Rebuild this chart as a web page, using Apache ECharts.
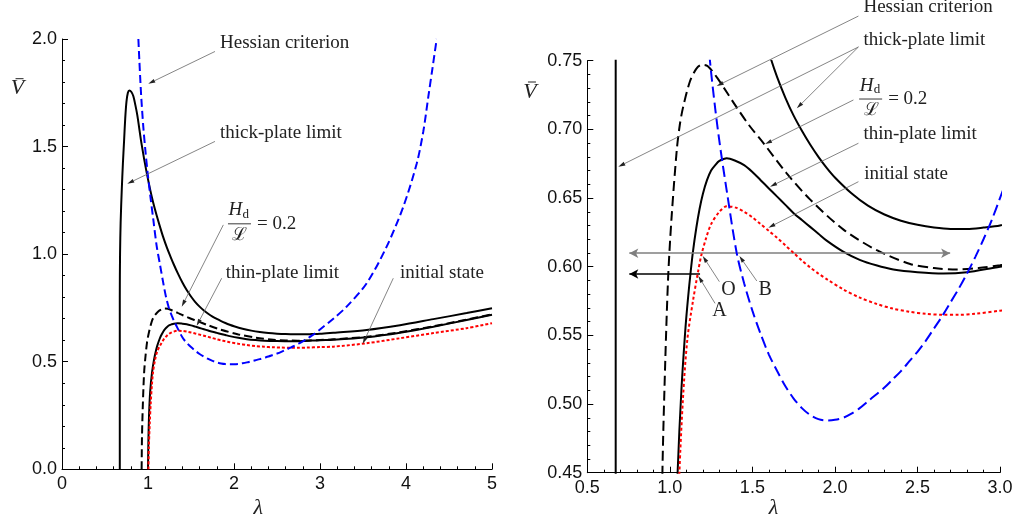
<!DOCTYPE html>
<html><head><meta charset="utf-8">
<script src="https://cdn.jsdelivr.net/npm/echarts@6/dist/echarts.min.js"></script>
<style>html,body{margin:0;padding:0;background:#fff}#c{width:1017px;height:522px}</style>
</head><body><div id="c"></div>
<script>
// ---------- data (λ, V̄) ----------
const thickLam = [0.672,0.672,0.675,0.682,0.695,0.708,0.721,0.735,0.750,0.766,0.783,0.805,0.829,0.852,0.876,0.926,0.984,1.06,1.16,1.22,1.26,1.30,1.35,1.40,1.45,1.50,1.55,1.60,1.65,1.70,1.75,1.80,1.85,1.90,1.95,2.0,2.1,2.2,2.3,2.4,2.5,2.6,2.7,2.8,2.9,3.0,3.155,3.543,3.93,4.318,4.705,5.0];
const thickV   = [0,0.8,1.0,1.15,1.3,1.42,1.52,1.63,1.71,1.75,1.761,1.755,1.735,1.695,1.645,1.51,1.38,1.24,1.10,1.03,0.99,0.952,0.908,0.868,0.833,0.803,0.777,0.756,0.738,0.723,0.710,0.699,0.689,0.680,0.672,0.665,0.6535,0.6445,0.638,0.6335,0.6305,0.6285,0.6275,0.6275,0.6285,0.630,0.635,0.648,0.670,0.698,0.726,0.749];

const hdLam = [0.926,0.93,0.94,0.955,0.972,0.99,1.01,1.042,1.06,1.08,1.122,1.16,1.193,1.23,1.284,1.345,1.405,1.48,1.567,1.708,1.849,2.052,2.254,2.456,2.60,2.738,2.87,3.0,3.155,3.543,3.93,4.318,4.705,5.0];
const hdV   = [0,0.15,0.30,0.45,0.53,0.593,0.635,0.685,0.703,0.716,0.735,0.744,0.747,0.746,0.738,0.727,0.716,0.703,0.690,0.668,0.649,0.627,0.612,0.602,0.599,0.598,0.599,0.601,0.604,0.616,0.637,0.665,0.696,0.720];

const thinLam = [1.0,1.004,1.012,1.025,1.047,1.07,1.095,1.11,1.125,1.14,1.16,1.18,1.20,1.225,1.25,1.275,1.30,1.345,1.40,1.45,1.50,1.55,1.60,1.65,1.70,1.75,1.80,1.85,1.90,1.95,2.05,2.15,2.25,2.354,2.50,2.657,2.80,3.0,3.155,3.543,3.93,4.318,4.705,5.0];
const thinV   = [0,0.12,0.25,0.36,0.45,0.51,0.556,0.577,0.595,0.611,0.628,0.642,0.653,0.663,0.670,0.674,0.677,0.679,0.677,0.674,0.669,0.663,0.657,0.651,0.645,0.639,0.634,0.629,0.624,0.619,0.611,0.605,0.601,0.598,0.596,0.595,0.596,0.600,0.602,0.614,0.635,0.663,0.694,0.718];

const initLam = [1.005,1.01,1.02,1.032,1.045,1.058,1.08,1.106,1.14,1.172,1.19,1.22,1.25,1.30,1.345,1.40,1.45,1.50,1.55,1.60,1.65,1.70,1.75,1.80,1.85,1.90,1.95,2.05,2.15,2.25,2.35,2.45,2.55,2.65,2.75,2.85,3.0,3.155,3.543,3.93,4.318,4.705,5.0];
const initV   = [0,0.10,0.21,0.31,0.39,0.45,0.505,0.547,0.575,0.597,0.608,0.621,0.631,0.640,0.644,0.643,0.640,0.636,0.631,0.626,0.621,0.6155,0.610,0.6045,0.5995,0.595,0.591,0.5835,0.5775,0.573,0.5695,0.5672,0.5657,0.565,0.565,0.5657,0.568,0.570,0.586,0.609,0.633,0.656,0.679];

const hessLam = [0.888,0.899,0.92,0.945,0.97,0.996,1.03,1.062,1.10,1.14,1.178,1.21,1.243,1.275,1.304,1.345,1.405,1.45,1.50,1.55,1.60,1.65,1.70,1.75,1.80,1.85,1.90,1.95,2.0,2.05,2.1,2.15,2.2,2.25,2.3,2.35,2.4,2.45,2.5,2.55,2.6,2.65,2.7,2.75,2.8,2.85,2.9,2.95,3.0,3.155,3.31,3.543,3.775,3.969,4.124,4.201,4.26,4.31,4.357];
const hessV   = [2.0,1.904,1.74,1.594,1.48,1.377,1.26,1.16,1.04,0.95,0.865,0.80,0.75,0.715,0.688,0.655,0.610,0.588,0.568,0.551,0.536,0.524,0.513,0.504,0.497,0.492,0.489,0.488,0.4885,0.490,0.493,0.497,0.502,0.507,0.512,0.518,0.524,0.531,0.538,0.546,0.555,0.564,0.574,0.584,0.595,0.607,0.620,0.634,0.650,0.70,0.756,0.865,1.035,1.221,1.42,1.57,1.733,1.87,2.0];

// right panel horizontal arrows (λ range, V̄ level)
const grayArrowLam = [0.7545, 2.698], grayArrowV = 0.6098;
const blackArrowLam = [1.183, 0.7545], blackArrowV = 0.5947;

// tick settings
const xTicks = [{min:0,max:5,interval:1,dec:0},{min:0.5,max:3,interval:0.5,dec:1}];
const yTicks = [{min:0,max:2,interval:0.5,dec:1},{min:0.45,max:0.75,interval:0.05,dec:2}];

// ---------- chart ----------
const chart = echarts.init(document.getElementById('c'));
const pts = (l, v) => l.map((x, i) => [x, v[i]]);
const curves = [
  {lam: thickLam, v: thickV, color: '#000', dash: ['solid','solid']},
  {lam: hdLam, v: hdV, color: '#000', dash: [[8,4],[10,5]]},
  {lam: thinLam, v: thinV, color: '#000', dash: ['solid','solid']},
  {lam: initLam, v: initV, color: '#ff0000', dash: [[3,2],[3,2.5]]},
  {lam: hessLam, v: hessV, color: '#0000ff', dash: [[8,4],[11,5]]}
];
const grids = [
  {left: 62, top: 39, width: 430, height: 430.3, outerBoundsMode: 'none'},
  {left: 587.3, top: 60.7, width: 412.7, height: 412, outerBoundsMode: 'none'}
];
const tickFont = {fontFamily: '"Liberation Sans", Arial, sans-serif', fontSize: 18, color: '#111'};
function axis(g, t, isX) {
  return {
    gridIndex: g, type: 'value', min: t.min, max: t.max, interval: t.interval,
    axisLine: {show: true, onZero: false, lineStyle: {color: '#000', width: 1}},
    axisTick: {show: true, inside: true, length: 6, lineStyle: {color: '#000', width: 1}},
    minorTick: {show: true, splitNumber: 5, length: 3, lineStyle: {color: '#000', width: 1}},
    splitLine: {show: false}, minorSplitLine: {show: false},
    axisLabel: Object.assign({margin: isX ? 6 : 5, formatter: v => (+v).toFixed(t.dec),
      showMinLabel: true, showMaxLabel: true, hideOverlap: false}, tickFont)
  };
}
const series = [];
[0, 1].forEach(g => {
  curves.forEach((c, k) => {
    series.push({
      type: 'line', xAxisIndex: g, yAxisIndex: g, data: pts(c.lam, c.v),
      showSymbol: false, symbol: 'none', smooth: 0.3, clip: true, silent: true,
      lineStyle: {color: c.color, width: 2, type: c.dash[g]}, z: 2 + k,
      animation: false
    });
  });
});
// horizontal arrows in right panel
series.push({
  type: 'line', xAxisIndex: 1, yAxisIndex: 1, data: [], silent: true, animation: false,
  markLine: {
    silent: true, animation: false, label: {show: false}, symbolSize: [7, 9],
    data: [
      [{coord: [grayArrowLam[0], grayArrowV], symbol: 'arrow', lineStyle: {color: '#7f7f7f', width: 1.6, type: 'solid'}},
       {coord: [grayArrowLam[1], grayArrowV], symbol: 'arrow'}],
      [{coord: [blackArrowLam[0], blackArrowV], symbol: 'none', lineStyle: {color: '#000', width: 1.6, type: 'solid'}},
       {coord: [blackArrowLam[1], blackArrowV], symbol: 'arrow'}]
    ]
  }
});

chart.setOption({
  animation: false,
  backgroundColor: '#fff',
  grid: grids,
  xAxis: [axis(0, xTicks[0], true), axis(1, xTicks[1], true)],
  yAxis: [axis(0, yTicks[0], false), axis(1, yTicks[1], false)],
  series: series
});

// ---------- annotations (positions in data coordinates of each panel) ----------
const serif = '"Liberation Serif", "Times New Roman", serif';
const notes = [
  {g:0, text:'Hessian criterion', at:[1.837,1.983]},
  {g:0, text:'thick-plate limit', at:[1.837,1.564]},
  {g:0, text:'thin-plate limit', at:[1.903,0.910]},
  {g:0, text:'initial state', at:[3.930,0.910]},
  {g:1, text:'Hessian criterion', at:[2.1727,0.7891]},
  {g:1, text:'thick-plate limit', at:[2.1727,0.7654]},
  {g:1, text:'thin-plate limit', at:[2.1727,0.6969]},
  {g:1, text:'initial state', at:[2.177,0.6678]}
];
const letters = [
  {g:1, text:'O', at:[1.3545,0.5830]},
  {g:1, text:'B', at:[1.577,0.5830]},
  {g:1, text:'A', at:[1.300,0.5680]}
];
const arrows = [
  {g:0, from:[1.779,1.942], to:[1.003,1.792]},
  {g:0, from:[1.779,1.524], to:[0.759,1.327]},
  {g:0, from:[1.876,1.136], to:[1.392,0.756]},
  {g:0, from:[1.857,0.888], to:[1.566,0.667]},
  {g:0, from:[3.852,0.888], to:[3.497,0.583]},
  {g:1, from:[2.1424,0.7825], to:[1.2842,0.7316]},
  {g:1, from:[2.1424,0.7600], to:[1.7691,0.7153]},
  {g:1, from:[2.1424,0.7600], to:[0.6879,0.6728]},
  {g:1, from:[2.1121,0.7214], to:[1.5770,0.6893]},
  {g:1, from:[2.1424,0.6899], to:[1.6073,0.6583]},
  {g:1, from:[2.1424,0.6619], to:[1.5970,0.6284]},
  {g:1, from:[1.3000,0.5891], to:[1.1994,0.6078]},
  {g:1, from:[1.5267,0.5896], to:[1.4212,0.6078]},
  {g:1, from:[1.2739,0.5733], to:[1.1727,0.5932]}
];
const fractions = [{g:0, at:[1.930,1.141]}, {g:1, at:[2.1467,0.7221]}];
const axisTitles = [
  {g:0, v:[-0.517,1.769], lam:[2.283,-0.180]},
  {g:1, v:[0.1527,0.7272], lam:[1.6273,0.4243]}
];

const P = (g, p) => chart.convertToPixel({xAxisIndex: g, yAxisIndex: g}, p);
const gr = [];
function txt(x, y, s, font, align) {
  gr.push({type:'text', x, y, silent:true, z:100,
    style:{text:s, font, fill:'#222', align: align || 'left', verticalAlign:'middle'}});
}
notes.forEach(n => { const p = P(n.g, n.at); txt(p[0], p[1], n.text, '19px ' + serif); });
letters.forEach(n => { const p = P(n.g, n.at); txt(p[0], p[1], n.text, '20px ' + serif, 'center'); });
arrows.forEach(a => {
  const s = P(a.g, a.from), t = P(a.g, a.to);
  const dx = t[0]-s[0], dy = t[1]-s[1], L = Math.hypot(dx, dy), ux = dx/L, uy = dy/L;
  const len = 7, hw = 2;
  const bx = t[0]-len*ux, by = t[1]-len*uy;
  gr.push({type:'line', silent:true, z:100, shape:{x1:s[0], y1:s[1], x2:bx, y2:by},
    style:{stroke:'#666', lineWidth:0.8}});
  gr.push({type:'polygon', silent:true, z:101,
    shape:{points:[[t[0],t[1]],[bx-hw*uy, by+hw*ux],[bx+hw*uy, by-hw*ux]]},
    style:{fill:'#222'}});
});
fractions.forEach(f => {
  const p = P(f.g, f.at), bx = p[0], by = p[1];
  txt(bx + 0.5, by - 13.5, 'H', 'italic 19px ' + serif);
  txt(bx + 14.5, by - 9.5, 'd', '13px ' + serif);
  gr.push({type:'line', silent:true, z:100, shape:{x1:bx, y1:by, x2:bx+23, y2:by}, style:{stroke:'#222', lineWidth:0.9}});
  txt(bx + 12, by + 11.5, '\u2112', '18px "DejaVu Serif", serif', 'center');
  txt(bx + 29, by, '= 0.2', '19px ' + serif);
});
axisTitles.forEach(a => {
  const pv = P(a.g, a.v), pl = P(a.g, a.lam);
  txt(pv[0], pv[1], 'V', 'italic 22px ' + serif, 'center');
  gr.push({type:'line', silent:true, z:100, shape:{x1:pv[0]-2, y1:pv[1]-10, x2:pv[0]+6, y2:pv[1]-10}, style:{stroke:'#222', lineWidth:1}});
  txt(pl[0], pl[1], '\u03bb', 'italic 22px ' + serif, 'center');
});
chart.setOption({graphic: {elements: gr}});
</script></body></html>
